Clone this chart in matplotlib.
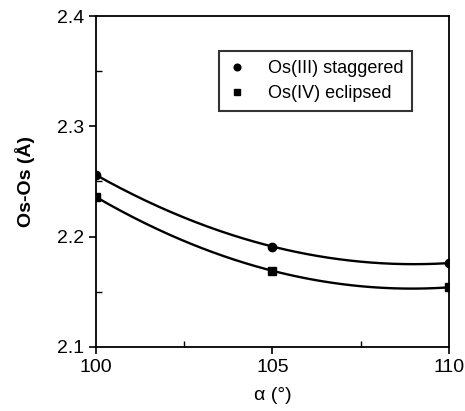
import numpy as np
import matplotlib
matplotlib.use("Agg")
import matplotlib.pyplot as plt
from matplotlib.ticker import MultipleLocator

plt.rcParams['font.family'] = ['Liberation Sans', 'DejaVu Sans']

alpha = [100, 105, 110]
staggered = [2.256, 2.191, 2.176]
eclipsed = [2.236, 2.169, 2.154]

fig = plt.figure(figsize=(4.65, 4.11), dpi=100)
ax = fig.add_axes([0.206, 0.156, 0.76, 0.805])

xs = np.linspace(alpha[0], alpha[-1], 200)
for vals, mk, lab in [(staggered, 'o', 'Os(III) staggered'), (eclipsed, 's', 'Os(IV) eclipsed')]:
    c = np.polyfit(alpha, vals, 2)
    ax.plot(xs, np.polyval(c, xs), color='black', lw=1.7)
    ax.plot(alpha, vals, mk, color='black', ms=6, ls='none', label=lab)

ax.set_xlim(100, 110)
ax.set_ylim(2.1, 2.4)
ax.xaxis.set_major_locator(MultipleLocator(5))
ax.xaxis.set_minor_locator(MultipleLocator(2.5))
ax.yaxis.set_major_locator(MultipleLocator(0.1))
ax.yaxis.set_minor_locator(MultipleLocator(0.05))
ax.tick_params(which='major', direction='out', length=5, width=1.2, labelsize=14)
ax.tick_params(which='minor', direction='in', length=4, width=1)
for s in ax.spines.values():
    s.set_linewidth(1.3)

ax.set_xlabel('α (°)', fontsize=14, labelpad=8)
ax.set_ylabel('Os-Os (Å)', fontsize=14, fontweight='bold', labelpad=16)

leg = ax.legend(loc='upper right', bbox_to_anchor=(0.895, 0.894), borderaxespad=0,
                fontsize=13, frameon=True, fancybox=False, edgecolor='black',
                handlelength=1, handletextpad=1.2, borderpad=0.5, labelspacing=0.45,
                markerscale=0.8)
leg.get_frame().set_linewidth(1.5)

fig.savefig('out.png', dpi=100)
